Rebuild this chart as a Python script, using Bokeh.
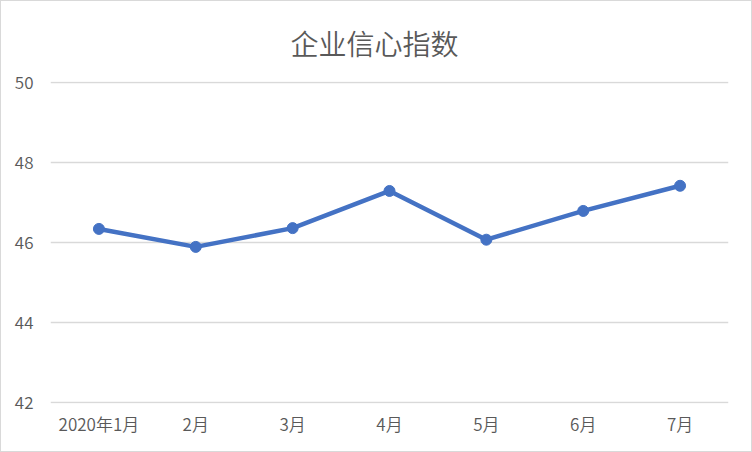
from bokeh.plotting import figure
from bokeh.models import Range1d, FactorRange, FixedTicker
from bokeh.embed import file_html
from bokeh.resources import INLINE

title_text = "企业信心指数"
months = ["2020年1月", "2月", "3月", "4月", "5月", "6月", "7月"]
confidence = [46.34, 45.89, 46.36, 47.29, 46.07, 46.79, 47.42]
y_ticks = [42, 44, 46, 48, 50]

FONT = "'Noto Sans CJK SC DemiLight', 'Noto Sans CJK SC'"
TICK_FONT = "'Noto Sans CJK SC DemiLight', 'Noto Sans CJK SC'"
GREY = "#595959"
BLUE = "#4472C4"

p = figure(width=752, height=452, output_backend="svg", toolbar_location=None,
           x_range=FactorRange(*months, range_padding=0),
           y_range=Range1d(41.97, 50.03),
           min_border_left=49, min_border_right=25,
           min_border_top=80, min_border_bottom=50,
           title=title_text)

p.title.text_font = FONT
p.title.text_font_size = "28px"
p.title.text_font_style = "normal"
p.title.text_color = GREY
p.title.align = "left"
p.title.offset = 240
p.title.standoff = 38

p.line(x=months, y=confidence, line_color=BLUE, line_width=4.5, line_join="round")
p.scatter(x=months, y=confidence, size=11, fill_color=BLUE, line_color=BLUE)

p.outline_line_color = None
p.border_fill_color = "white"
p.styles = {"border": "1px solid #d9d9d9", "box-sizing": "border-box"}

p.xgrid.grid_line_color = None
p.ygrid.grid_line_color = "#d9d9d9"
p.ygrid.grid_line_width = 1.5
p.yaxis.ticker = FixedTicker(ticks=y_ticks)

for ax in (p.xaxis, p.yaxis):
    ax.axis_line_color = None
    ax.major_tick_line_color = None
    ax.minor_tick_line_color = None
    ax.major_label_text_font = TICK_FONT
    ax.major_label_text_font_size = "17px"
    ax.major_label_text_color = GREY

p.yaxis.major_label_standoff = 11
p.xaxis.major_label_standoff = 1

open("out.html", "w").write(file_html(p, INLINE))
